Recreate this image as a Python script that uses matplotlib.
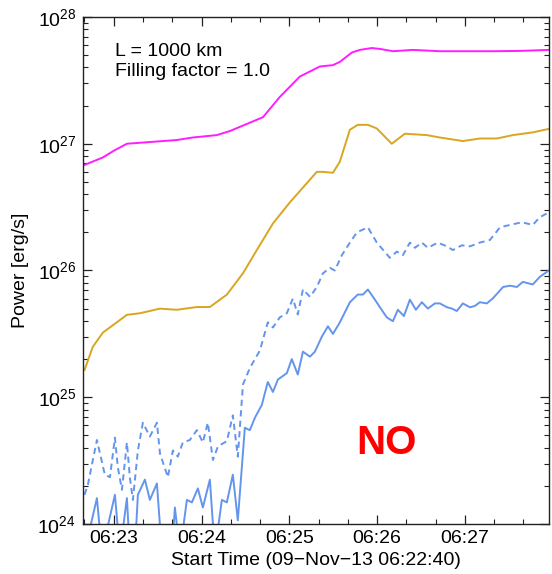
import matplotlib
matplotlib.use("Agg")
import matplotlib.pyplot as plt
from matplotlib.ticker import FixedLocator, LogLocator, LogFormatterSciNotation, NullFormatter

plt.rcParams['font.family'] = ['Liberation Sans', 'DejaVu Sans']
plt.rcParams['mathtext.fontset'] = 'custom'
plt.rcParams['mathtext.rm'] = 'Liberation Sans'

# time in seconds since 06:22:40
t_mag = [0, 12.6, 20, 29.0, 63.1, 74.0, 90.5, 99.4, 122.0, 133.5, 147.2, 160.9, 169.8, 174.5,
         182.8, 188.2, 196.4, 201.9, 210.8, 224.4, 242.9, 261.3, 279.1, 297.6, 317.4]
p_mag = [6.8e26, 7.8e26, 8.8e26, 1.0e27, 1.07e27, 1.12e27, 1.17e27, 1.26e27, 1.62e27, 2.34e27,
         3.39e27, 4.07e27, 4.17e27, 4.42e27, 5.25e27, 5.5e27, 5.69e27, 5.6e27, 5.37e27, 5.5e27,
         5.37e27, 5.37e27, 5.37e27, 5.4e27, 5.5e27]

t_org = [0, 5.7, 12.6, 22.1, 29.0, 37.9, 51.5, 63.1, 76.8, 85.7, 97.3, 108.3, 117.8, 128.8,
         140.4, 158.8, 163.0, 169.8, 174.5, 181.4, 186.8, 193.7, 199.8, 210.0, 219.0, 234.0,
         242.9, 258.6, 270.2, 281.8, 292.8, 306.5, 317.4]
p_org = [1.64e25, 2.5e25, 3.24e25, 3.9e25, 4.47e25, 4.6e25, 5.0e25, 4.9e25, 5.15e25, 5.15e25,
         6.45e25, 9.5e25, 1.45e26, 2.35e26, 3.45e26, 6.0e26, 6.0e26, 5.9e26, 7.2e26, 1.29e27,
         1.41e27, 1.41e27, 1.32e27, 1.0e27, 1.2e27, 1.17e27, 1.12e27, 1.05e27, 1.1e27, 1.1e27,
         1.17e27, 1.23e27, 1.31e27]

t_dash = [0, 2.3, 8.5, 11.9, 13.9, 17.4, 20.8, 22.8, 25.6, 29.0, 31.0, 33.1, 36.5, 39.9, 44.7,
          49.5, 51.6, 57.0, 60.4, 63.8, 67.2, 72.0, 76.8, 80.9, 84.3, 87.8, 91.2, 97.3, 101.4,
          104.8, 108.3, 113.0, 119.9, 125.3, 128.8, 133.5, 138.3, 142.4, 145.8, 149.3, 154.1,
          158.8, 163.0, 167.7, 171.1, 175.9, 181.4, 186.2, 193.7, 199.8, 208.7, 213.5, 217.6,
          222.4, 225.8, 230.6, 234.7, 241.5, 247.7, 251.8, 257.9, 263.4, 270.2, 277.1, 284.0,
          290.9, 298.9, 306.4, 311.2, 317.4]
p_dash = [1.7e24, 2.04e24, 4.6e24, 3.1e24, 2.45e24, 2.34e24, 4.8e24, 2.8e24, 1.86e24, 4.4e24,
          2.34e24, 1.55e24, 3.8e24, 6.3e24, 4.9e24, 6.3e24, 3.6e24, 2.34e24, 3.8e24, 3.4e24,
          4.4e24, 4.6e24, 5.5e24, 4.4e24, 6.3e24, 3.2e24, 4.1e24, 4.5e24, 7.2e24, 3.4e24,
          1.26e25, 1.7e25, 2.34e25, 3.9e25, 3.55e25, 4.27e25, 4.6e25, 6.0e25, 4.5e25, 7.1e25,
          6.2e25, 7.4e25, 9.5e25, 1.05e26, 1.0e26, 1.32e26, 1.66e26, 2.0e26, 2.19e26, 1.66e26,
          1.26e26, 1.41e26, 1.32e26, 1.66e26, 1.51e26, 1.66e26, 1.51e26, 1.66e26, 1.55e26,
          1.45e26, 1.58e26, 1.55e26, 1.66e26, 1.74e26, 2.19e26, 2.29e26, 2.4e26, 2.29e26,
          2.63e26, 2.88e26]

t_sol = [0, 8.5, 11.9, 20.8, 24.2, 29.0, 31.0, 34.4, 36.5, 41.3, 44.7, 49.5, 52.9, 59.7, 61.8,
         65.2, 70.0, 73.4, 77.5, 80.9, 85.7, 89.1, 93.9, 97.3, 101.4, 104.8, 109.6, 113.0, 116.5,
         121.2, 125.3, 128.8, 132.2, 138.3, 141.7, 145.8, 149.3, 154.1, 157.5, 162.3, 166.4,
         169.8, 174.5, 181.4, 186.8, 190.3, 193.7, 198.5, 201.9, 206.6, 210.8, 214.2, 218.3,
         222.4, 226.5, 230.6, 234.7, 239.5, 242.9, 247.7, 251.1, 254.5, 258.6, 263.4, 266.8,
         270.2, 275.0, 279.1, 286.1, 290.9, 295.5, 299.6, 306.4, 311.2, 317.4]
p_sol = [6e23, 1.6e24, 6e23, 1.7e24, 6e23, 1.6e24, 6e23, 6e23, 1.7e24, 2.24e24, 1.55e24, 2.09e24,
         6e23, 6e23, 1.35e24, 6e23, 1.55e24, 1.48e24, 1.91e24, 1.35e24, 2.24e24, 6e23, 1.55e24,
         1.48e24, 2.45e24, 1.07e24, 5.75e24, 5.5e24, 6.9e24, 8.7e24, 1.32e25, 1.1e25, 1.38e25,
         1.55e25, 2.0e25, 1.51e25, 2.29e25, 2.09e25, 2.29e25, 3.02e25, 3.63e25, 3.16e25, 3.89e25,
         5.62e25, 6.46e25, 6.46e25, 7.08e25, 5.89e25, 5.13e25, 4.27e25, 3.98e25, 4.9e25, 4.37e25,
         5.89e25, 4.9e25, 5.62e25, 5.01e25, 5.5e25, 5.5e25, 5.13e25, 5.01e25, 4.79e25, 5.5e25,
         5.13e25, 5.25e25, 5.62e25, 5.5e25, 6.03e25, 7.41e25, 7.59e25, 7.41e25, 8.13e25, 7.76e25,
         8.91e25, 1.0e26]

xtick_pos = [20, 80, 140, 200, 260]
xtick_labels = ['06:23', '06:24', '06:25', '06:26', '06:27']

fig = plt.figure(figsize=(5.52, 5.74), dpi=100)
ax = fig.add_axes([0.1504, 0.0871, 0.8442, 0.8833])

lw = 1.4
ax.plot(t_mag, p_mag, color='#ff1dff', lw=lw)
ax.plot(t_org, p_org, color='#daa520', lw=lw)
ax.plot(t_dash, p_dash, color='#6495ed', lw=lw, linestyle=(0, (3.2, 2.2)))
ax.plot(t_sol, p_sol, color='#6495ed', lw=lw)

ax.set_yscale('log')
ax.set_ylim(1e24, 1e28)
ax.set_xlim(-1, 317.5)

ax.xaxis.set_major_locator(FixedLocator(xtick_pos))
ax.set_xticklabels(xtick_labels)
ax.xaxis.set_minor_locator(FixedLocator([t for t in range(0, 320, 20) if t not in xtick_pos]))

ax.yaxis.set_major_locator(LogLocator(base=10, numticks=10))
ax.yaxis.set_major_formatter(LogFormatterSciNotation())
ax.yaxis.set_minor_locator(LogLocator(base=10, subs=range(2, 10), numticks=20))
ax.yaxis.set_minor_formatter(NullFormatter())

ax.tick_params(which='both', direction='in', top=True, right=True, colors='#222222',
               labelcolor='black', labelsize=14)
ax.tick_params(which='major', length=6.5, width=0.9)
ax.tick_params(which='minor', length=3.5, width=0.8)
ax.tick_params(axis='x', which='major', pad=4)
ax.tick_params(axis='y', which='major', pad=5)
for s in ax.spines.values():
    s.set_linewidth(1.0)
    s.set_color('#222222')

ax.set_xlabel('Start Time (09\u2212Nov\u221213 06:22:40)', fontsize=14, labelpad=4)
ax.set_ylabel('Power [erg/s]', fontsize=14, labelpad=6)

ax.text(0.069, 0.923, 'L = 1000 km', transform=ax.transAxes, fontsize=14, va='baseline')
ax.text(0.069, 0.884, 'Filling factor = 1.0', transform=ax.transAxes, fontsize=14, va='baseline')

ax.text(0.652, 0.160, 'NO', transform=ax.transAxes, fontsize=29, fontweight='bold',
        color='#ff0000', ha='center', va='center')

fig.savefig('out.png', dpi=100)
